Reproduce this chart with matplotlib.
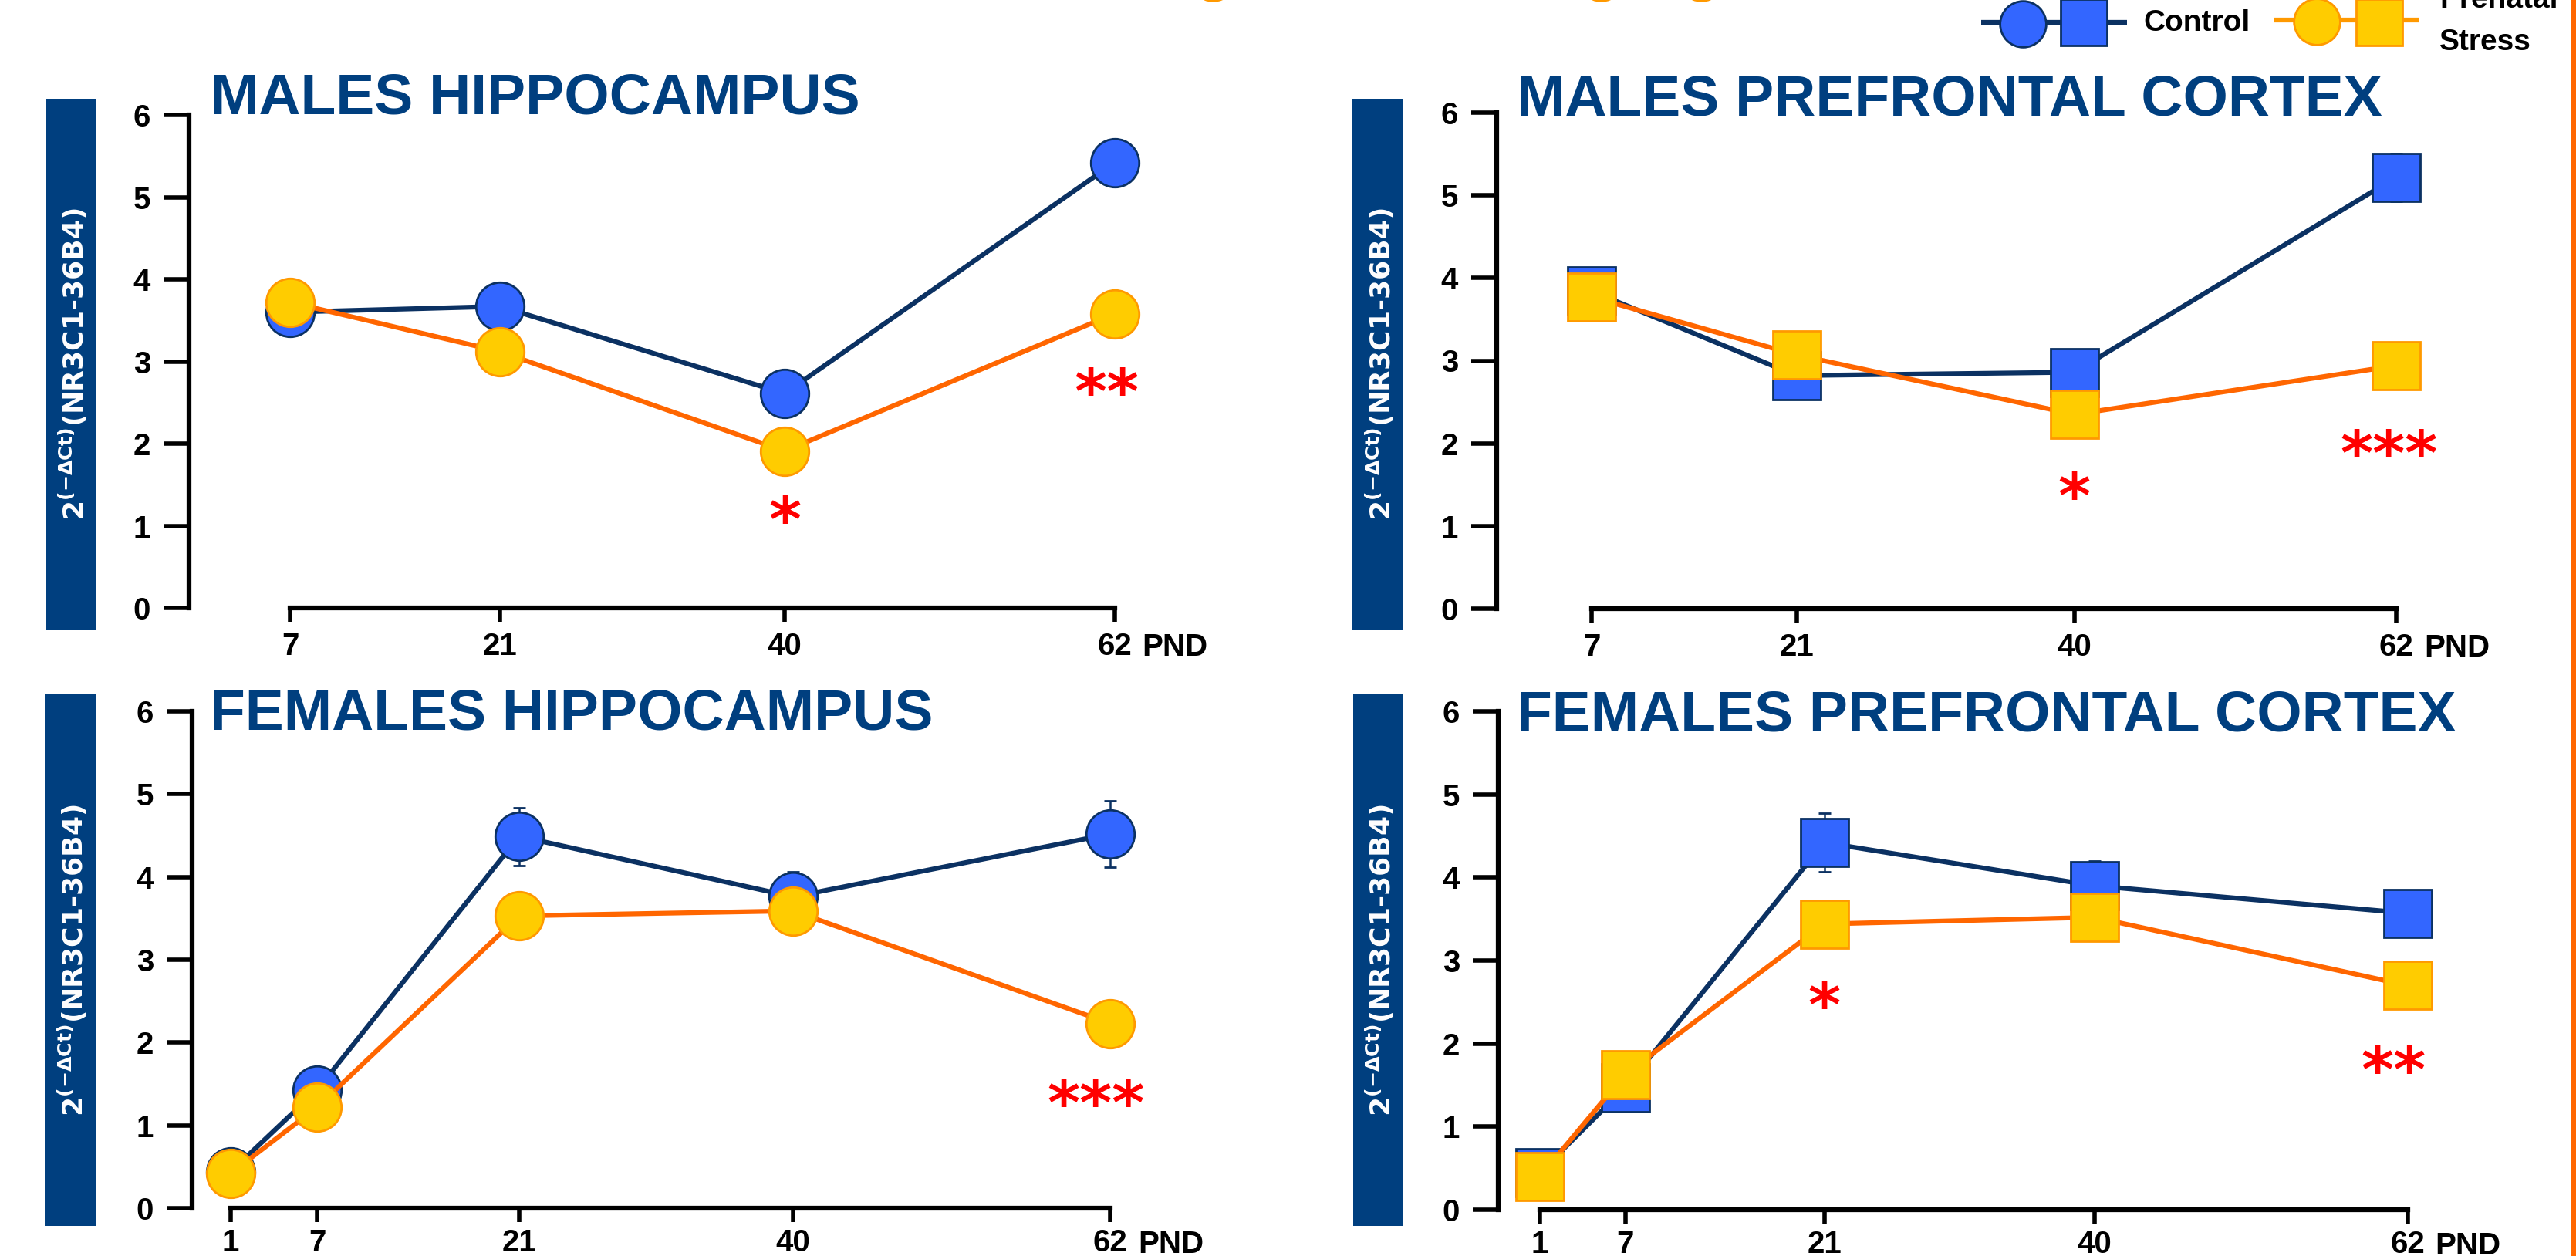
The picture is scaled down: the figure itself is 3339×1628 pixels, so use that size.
import matplotlib.pyplot as plt
from matplotlib.patches import Rectangle

# Figure canvas in pixels (dpi 100)
W, H = 3339, 1628

plt.rcParams['font.family'] = ['Liberation Sans', 'DejaVu Sans']
plt.rcParams['font.weight'] = 'bold'

NAVY = '#003f7f'
CTRL_LINE = '#0b3162'
CTRL_FILL = '#3366ff'
PS_LINE = '#ff6600'
PS_FILL = '#ffcc00'
PS_EDGE = '#ff9900'
STAR_RED = '#ff0000'

# ---------------- data: 2^(-dCt) NR3C1 / 36B4 ----------------
male_pnd = [7, 21, 40, 62]
female_pnd = [1, 7, 21, 40, 62]

# males, hippocampus
mh_ctrl = [3.60, 3.67, 2.61, 5.42]
mh_ctrl_sem = [0.20, 0.20, 0.20, 0.20]
mh_ps = [3.72, 3.12, 1.91, 3.58]
mh_ps_sem = [0.20, 0.20, 0.20, 0.20]

# males, prefrontal cortex
mp_ctrl = [3.84, 2.82, 2.86, 5.22]
mp_ctrl_sem = [0.20, 0.20, 0.20, 0.29]
mp_ps = [3.77, 3.07, 2.35, 2.94]
mp_ps_sem = [0.20, 0.20, 0.20, 0.20]

# females, hippocampus
fh_ctrl = [0.44, 1.43, 4.49, 3.76, 4.52]
fh_ctrl_sem = [0.10, 0.20, 0.35, 0.30, 0.40]
fh_ps = [0.42, 1.22, 3.53, 3.59, 2.23]
fh_ps_sem = [0.10, 0.20, 0.28, 0.20, 0.20]

# females, prefrontal cortex
fp_ctrl = [0.45, 1.47, 4.42, 3.90, 3.57]
fp_ctrl_sem = [0.10, 0.20, 0.35, 0.30, 0.20]
fp_ps = [0.40, 1.63, 3.44, 3.52, 2.70]
fp_ps_sem = [0.10, 0.20, 0.25, 0.20, 0.20]

# significance marks (PND, level, label)
mh_stars = [(40, 1.26, '*'), (61.5, 2.82, '**')]
mp_stars = [(40, 1.55, '*'), (61.5, 2.06, '***')]
fh_stars = [(61, 1.45, '***')]
fp_stars = [(21, 2.65, '*'), (61, 1.87, '**')]

y_ticks = [0, 1, 2, 3, 4, 5, 6]
ylabel = r'2$^{\mathbf{(-\Delta Ct)}}$(NR3C1-36B4)'


def fx(px):
    return px / W


def fy(py):
    return 1 - py / H


# panel layout: title position, axes box l/t/r/b in px, left x limit, label box
panels = [
    dict(title='MALES HIPPOCAMPUS', tx=273, ty=148, box=(245, 149, 1464, 788),
         x0=0.26, pnd=male_pnd, ctrl=mh_ctrl, ctrl_sem=mh_ctrl_sem,
         ps=mh_ps, ps_sem=mh_ps_sem, stars=mh_stars, marker='o',
         lab=(59, 128, 124, 816), xpad=9),
    dict(title='MALES PREFRONTAL CORTEX', tx=1966, ty=149, box=(1940, 146, 3125, 789),
         x0=0.51, pnd=male_pnd, ctrl=mp_ctrl, ctrl_sem=mp_ctrl_sem,
         ps=mp_ps, ps_sem=mp_ps_sem, stars=mp_stars, marker='s',
         lab=(1753, 128, 1818, 816), xpad=9),
    dict(title='FEMALES HIPPOCAMPUS', tx=272, ty=946, box=(249, 922, 1458, 1566),
         x0=-1.68, pnd=female_pnd, ctrl=fh_ctrl, ctrl_sem=fh_ctrl_sem,
         ps=fh_ps, ps_sem=fh_ps_sem, stars=fh_stars, marker='o',
         lab=(58, 900, 124, 1589), xpad=6),
    dict(title='FEMALES PREFRONTAL CORTEX', tx=1966, ty=947, box=(1942, 922, 3139, 1568),
         x0=-1.93, pnd=female_pnd, ctrl=fp_ctrl, ctrl_sem=fp_ctrl_sem,
         ps=fp_ps, ps_sem=fp_ps_sem, stars=fp_stars, marker='s',
         lab=(1754, 900, 1818, 1589), xpad=6),
]

MS = 45

fig = plt.figure(figsize=(W / 100, H / 100), dpi=100)

# overlay in pixel units for label boxes, legend and the slide border
deco = fig.add_axes([0, 0, 1, 1])
deco.set_xlim(0, W)
deco.set_ylim(H, 0)
deco.axis('off')

for p in panels:
    l, t, r, b = p['box']
    ax = fig.add_axes([fx(l), fy(b), fx(r) - fx(l), (b - t) / H])
    ax.set_facecolor('none')

    ax.errorbar(p['pnd'], p['ctrl'], yerr=p['ctrl_sem'], fmt='-', marker=p['marker'],
                color=CTRL_LINE, lw=4.5, ms=MS, mfc=CTRL_FILL, mec=CTRL_LINE, mew=2,
                ecolor=CTRL_LINE, elinewidth=1.8, capsize=6, capthick=1.8,
                zorder=3, clip_on=False)
    ax.errorbar(p['pnd'], p['ps'], yerr=p['ps_sem'], fmt='-', marker=p['marker'],
                color=PS_LINE, lw=4.5, ms=MS, mfc=PS_FILL, mec=PS_EDGE, mew=2,
                ecolor='#3a3a3a', elinewidth=1.8, capsize=6, capthick=1.8,
                zorder=4, clip_on=False)

    for sx, sy, s in p['stars']:
        ax.annotate(s, xy=(sx, sy), xytext=(0, -18), textcoords='offset points',
                    ha='center', va='center', color=STAR_RED, fontsize=58,
                    family='DejaVu Sans', fontweight='bold', zorder=6)

    ax.set_xlim(p['x0'], 63)
    ax.set_ylim(0, 6)
    ax.set_xticks(p['pnd'])
    ax.set_yticks(y_ticks)
    ax.spines['top'].set_visible(False)
    ax.spines['right'].set_visible(False)
    ax.spines['left'].set_linewidth(4.5)
    ax.spines['bottom'].set_linewidth(4.5)
    ax.spines['left'].set_bounds(0, 6)
    ax.spines['bottom'].set_bounds(p['pnd'][0], p['pnd'][-1])
    ax.tick_params(axis='y', direction='out', length=24, width=4, pad=12, labelsize=29)
    ax.tick_params(axis='x', direction='out', length=13, width=4, pad=p['xpad'],
                   labelsize=29)

    ax.annotate('PND', xy=(p['pnd'][-1], 0), xytext=(26, -14 - p['xpad']),
                textcoords='offset points', ha='left', va='top', fontsize=29,
                annotation_clip=False)

    fig.text(fx(p['tx']), fy(p['ty']), p['title'], ha='left', va='baseline',
             fontsize=54, color=NAVY)

    # blue label box with the y-axis quantity
    bl, bt, br, bb = p['lab']
    deco.add_patch(Rectangle((bl, bt), br - bl, bb - bt, color=NAVY, lw=0))
    deco.text((bl + br) / 2 + 3, (bt + bb) / 2, ylabel, rotation=90, ha='center',
              va='center', color='white', fontsize=26, family='DejaVu Sans',
              fontweight='bold')

# legend
deco.plot([2568, 2757], [29, 29], color=CTRL_LINE, lw=4.5, solid_capstyle='butt')
deco.plot([2622], [31], 'o', ms=MS - 2, mfc=CTRL_FILL, mec=CTRL_LINE, mew=2)
deco.plot([2701], [29], 's', ms=MS - 2, mfc=CTRL_FILL, mec=CTRL_LINE, mew=2)
deco.text(2778, 40, 'Control', ha='left', va='baseline', fontsize=28)

deco.plot([2947, 3136], [26, 26], color=PS_EDGE, lw=4.5, solid_capstyle='butt')
deco.plot([3003], [28], 'o', ms=MS - 2, mfc=PS_FILL, mec=PS_EDGE, mew=2)
deco.plot([3084], [29], 's', ms=MS - 2, mfc=PS_FILL, mec=PS_EDGE, mew=2)
deco.text(3162, 10, 'Prenatal', ha='left', va='baseline', fontsize=28)
deco.text(3162, 65, 'Stress', ha='left', va='baseline', fontsize=28)

# markers of the slide element above, just peeking in at the top edge
deco.plot([1572, 2075, 2205], [-29, -29, -29], 'o', ms=MS - 2, mfc=PS_FILL,
          mec=PS_EDGE, mew=2, clip_on=False)

# orange slide border on the right
deco.add_patch(Rectangle((3333, 0), 6, H, color=PS_LINE, lw=0))

fig.savefig('out.png', dpi=100)
